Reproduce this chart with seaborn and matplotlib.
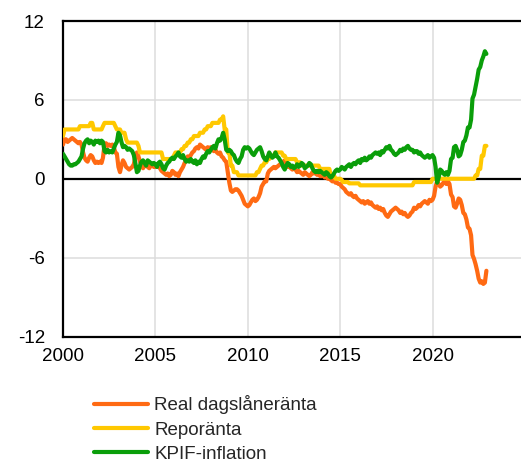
import pandas as pd
import numpy as np
import matplotlib
matplotlib.use('Agg')
import matplotlib.pyplot as plt
import matplotlib.dates as mdates
import seaborn as sns

# monthly data, Jan 2000 - Dec 2022
real_rate = [
    2.6, 3.0, 3.0, 2.8, 2.9, 3.0, 3.1, 3.0, 2.9, 2.8, 2.7, 2.8,        # 2000
    2.6, 2.0, 1.6, 1.4, 1.3, 1.6, 1.8, 1.7, 1.4, 1.2, 1.3, 1.2,        # 2001
    1.3, 1.2, 1.6, 2.6, 2.7, 2.5, 2.6, 2.5, 2.6, 2.4, 2.0, 1.9,        # 2002
    0.9, 0.5, 1.0, 1.4, 1.2, 0.9, 0.8, 0.7, 0.8, 0.9, 1.1, 1.7,        # 2003
    2.0, 1.7, 1.3, 1.0, 0.8, 1.0, 1.2, 0.9, 0.8, 1.0, 1.0, 0.9,        # 2004
    0.9, 0.9, 1.0, 0.8, 0.6, 0.5, 0.4, 0.3, 0.4, 0.2, 0.3, 0.6,        # 2005
    0.5, 0.3, 0.4, 0.2, 0.5, 0.7, 0.9, 1.2, 1.4, 1.7, 1.6, 1.8,        # 2006
    2.0, 2.1, 2.3, 2.4, 2.3, 2.6, 2.5, 2.4, 2.3, 2.2, 2.4, 2.3,        # 2007
    2.4, 2.2, 2.1, 2.2, 2.0, 1.9, 2.0, 1.7, 1.6, 1.4, 1.3, 0.5,        # 2008
    -0.3, -0.9, -1.0, -0.9, -0.8, -0.8, -0.9, -1.1, -1.3, -1.6, -1.9, -2.0,  # 2009
    -2.1, -2.0, -1.8, -1.6, -1.5, -1.7, -1.6, -1.4, -1.1, -0.6, -0.4, -0.2,  # 2010
    -0.2, 0.4, 0.6, 0.7, 0.8, 0.9, 0.8, 0.9, 1.0, 1.1, 1.2, 1.3,       # 2011
    1.4, 1.2, 0.9, 1.0, 0.8, 0.7, 0.8, 0.7, 0.5, 0.6, 0.5, 0.4,        # 2012
    0.3, 0.5, 0.4, 0.3, 0.2, 0.3, 0.5, 0.4, 0.5, 0.3, 0.4, 0.2,        # 2013
    0.2, 0.3, 0.1, 0.2, 0.0, 0.1, -0.1, -0.2, -0.1, -0.3, -0.3, -0.4,  # 2014
    -0.4, -0.6, -0.7, -0.8, -1.0, -1.1, -1.2, -1.1, -1.3, -1.4, -1.3, -1.5,  # 2015
    -1.6, -1.7, -1.8, -1.7, -1.9, -1.8, -1.7, -1.9, -1.8, -2.0, -2.1, -2.2,  # 2016
    -2.1, -2.3, -2.2, -2.4, -2.3, -2.6, -2.8, -2.9, -2.7, -2.5, -2.4, -2.3,  # 2017
    -2.2, -2.3, -2.4, -2.6, -2.5, -2.7, -2.6, -2.8, -2.9, -2.8, -2.6, -2.5,  # 2018
    -2.2, -2.3, -2.2, -2.0, -2.1, -1.9, -1.8, -1.7, -1.8, -1.9, -1.6, -1.7,  # 2019
    -1.6, -1.3, -0.6, -0.2, -0.4, -0.6, -0.5, -0.3, -0.2, -0.4, -0.2, -0.4,  # 2020
    -1.2, -1.4, -2.1, -2.2, -1.9, -1.5, -1.6, -2.0, -2.6, -2.7, -3.1, -3.7,  # 2021
    -3.8, -4.3, -5.8, -6.1, -6.5, -7.0, -7.6, -7.9, -7.8, -8.0, -7.9, -7.0,  # 2022
]

repo_rate = [
    3.25, 3.75, 3.75, 3.75, 3.75, 3.75, 3.75, 3.75, 3.75, 3.75, 3.75, 4.00,  # 2000
    4.00, 4.00, 4.00, 4.00, 4.00, 4.00, 4.25, 4.25, 3.75, 3.75, 3.75, 3.75,  # 2001
    3.75, 3.75, 4.00, 4.25, 4.25, 4.25, 4.25, 4.25, 4.25, 4.25, 4.00, 3.75,  # 2002
    3.75, 3.75, 3.50, 3.50, 3.50, 3.00, 2.75, 2.75, 2.75, 2.75, 2.75, 2.75,  # 2003
    2.75, 2.50, 2.00, 2.00, 2.00, 2.00, 2.00, 2.00, 2.00, 2.00, 2.00, 2.00,  # 2004
    2.00, 2.00, 2.00, 2.00, 2.00, 1.50, 1.50, 1.50, 1.50, 1.50, 1.50, 1.50,  # 2005
    1.75, 2.00, 2.00, 2.00, 2.00, 2.25, 2.25, 2.50, 2.50, 2.75, 2.75, 3.00,  # 2006
    3.00, 3.25, 3.25, 3.25, 3.25, 3.50, 3.50, 3.50, 3.75, 3.75, 4.00, 4.00,  # 2007
    4.00, 4.25, 4.25, 4.25, 4.25, 4.25, 4.50, 4.50, 4.75, 3.75, 3.75, 2.00,  # 2008
    2.00, 1.00, 1.00, 0.50, 0.50, 0.50, 0.25, 0.25, 0.25, 0.25, 0.25, 0.25,  # 2009
    0.25, 0.25, 0.25, 0.25, 0.25, 0.25, 0.50, 0.50, 0.75, 1.00, 1.00, 1.25,  # 2010
    1.25, 1.50, 1.50, 1.75, 1.75, 1.75, 2.00, 2.00, 2.00, 2.00, 2.00, 1.75,  # 2011
    1.75, 1.50, 1.50, 1.50, 1.50, 1.50, 1.50, 1.50, 1.25, 1.25, 1.25, 1.00,  # 2012
    1.00, 1.00, 1.00, 1.00, 1.00, 1.00, 1.00, 1.00, 1.00, 1.00, 1.00, 0.75,  # 2013
    0.75, 0.75, 0.75, 0.75, 0.75, 0.75, 0.25, 0.25, 0.25, 0.00, 0.00, 0.00,  # 2014
    0.00, -0.10, -0.25, -0.25, -0.25, -0.25, -0.35, -0.35, -0.35, -0.35, -0.35, -0.35,  # 2015
    -0.35, -0.50, -0.50, -0.50, -0.50, -0.50, -0.50, -0.50, -0.50, -0.50, -0.50, -0.50,  # 2016
    -0.50, -0.50, -0.50, -0.50, -0.50, -0.50, -0.50, -0.50, -0.50, -0.50, -0.50, -0.50,  # 2017
    -0.50, -0.50, -0.50, -0.50, -0.50, -0.50, -0.50, -0.50, -0.50, -0.50, -0.50, -0.50,  # 2018
    -0.25, -0.25, -0.25, -0.25, -0.25, -0.25, -0.25, -0.25, -0.25, -0.25, -0.25, -0.25,  # 2019
    0.00, 0.00, 0.00, 0.00, 0.00, 0.00, 0.00, 0.00, 0.00, 0.00, 0.00, 0.00,  # 2020
    0.00, 0.00, 0.00, 0.00, 0.00, 0.00, 0.00, 0.00, 0.00, 0.00, 0.00, 0.00,  # 2021
    0.00, 0.00, 0.00, 0.00, 0.25, 0.25, 0.75, 0.75, 1.75, 1.75, 2.50, 2.50,  # 2022
]

kpif = [
    1.9, 1.7, 1.5, 1.3, 1.1, 1.0, 1.0, 1.1, 1.1, 1.2, 1.3, 1.5,        # 2000
    1.7, 2.3, 2.7, 2.9, 3.0, 2.7, 2.9, 2.8, 2.6, 2.9, 2.8, 2.9,        # 2001
    2.7, 2.9, 2.8, 2.1, 2.0, 2.2, 2.0, 2.1, 2.0, 2.3, 2.6, 2.8,        # 2002
    3.5, 3.3, 2.8, 2.4, 2.5, 2.4, 2.2, 2.3, 2.2, 2.1, 1.8, 1.2,        # 2003
    0.5, 0.6, 1.0, 1.3, 1.4, 1.2, 1.0, 1.4, 1.3, 1.2, 1.1, 1.2,        # 2004
    1.1, 0.9, 1.2, 1.3, 1.1, 0.8, 0.7, 1.0, 1.2, 1.3, 1.5, 1.6,        # 2005
    1.5, 1.7, 1.8, 2.0, 1.7, 1.6, 1.8, 1.5, 1.3, 1.4, 1.3, 1.5,        # 2006
    1.3, 1.2, 1.4, 1.1, 1.3, 1.2, 1.5, 1.7, 1.6, 1.9, 2.1, 2.0,        # 2007
    2.2, 2.4, 2.5, 2.3, 2.7, 3.0, 2.9, 3.1, 3.5, 3.0, 2.2, 2.1,        # 2008
    2.2, 2.1, 1.9, 1.8, 1.5, 1.3, 1.2, 1.5, 1.7, 2.2, 2.4, 2.3,        # 2009
    2.4, 2.3, 2.1, 1.9, 1.8, 2.0, 2.2, 2.3, 2.4, 2.1, 1.7, 1.5,        # 2010
    1.4, 1.7, 2.0, 1.8, 1.6, 1.7, 2.0, 1.7, 1.6, 1.4, 1.2, 0.9,        # 2011
    0.7, 1.0, 1.2, 1.1, 0.9, 1.0, 0.8, 0.9, 1.1, 0.9, 1.0, 1.2,        # 2012
    1.1, 0.8, 0.9, 1.0, 1.2, 1.1, 0.8, 0.6, 0.5, 0.6, 0.5, 0.6,        # 2013
    0.5, 0.4, 0.3, 0.5, 0.4, 0.2, 0.1, 0.2, 0.4, 0.6, 0.7, 0.6,        # 2014
    0.7, 0.9, 0.8, 0.7, 0.9, 1.0, 1.1, 0.9, 1.1, 1.2, 1.1, 1.3,        # 2015
    1.4, 1.2, 1.5, 1.4, 1.6, 1.4, 1.5, 1.7, 1.6, 1.8, 1.9, 2.0,        # 2016
    1.9, 2.0, 1.8, 2.1, 2.0, 2.2, 2.4, 2.3, 2.5, 2.2, 2.1, 1.9,        # 2017
    1.8, 1.9, 2.0, 2.2, 2.1, 2.3, 2.2, 2.4, 2.5, 2.3, 2.2, 2.2,        # 2018
    2.0, 2.1, 2.1, 1.9, 2.0, 1.8, 1.7, 1.6, 1.7, 1.8, 1.6, 1.7,        # 2019
    1.8, 1.6, 0.9, -0.3, 0.1, 0.7, 0.6, 0.4, 0.3, 0.5, 0.3, 0.6,       # 2020
    1.5, 1.6, 2.4, 2.5, 2.2, 1.7, 1.8, 2.2, 2.8, 2.9, 3.3, 3.9,        # 2021
    3.9, 4.5, 6.1, 6.4, 7.0, 7.6, 8.3, 8.5, 9.0, 9.3, 9.7, 9.5,        # 2022
]

labels = ['Real dagslåneränta', 'Reporänta', 'KPIF-inflation']
colors = ['#ff6a13', '#ffc800', '#0a9e0a']
yticks = [-12, -6, 0, 6, 12]
xtick_years = [2000, 2005, 2010, 2015, 2020]

dates = pd.date_range('2000-01-01', periods=len(kpif), freq='MS')
df = pd.DataFrame({'date': dates, labels[0]: real_rate, labels[1]: repo_rate, labels[2]: kpif})
long_df = df.melt(id_vars='date', var_name='serie', value_name='procent')

sns.set_style('white')
plt.rcParams['font.family'] = ['Liberation Sans', 'DejaVu Sans']
plt.rcParams['axes.unicode_minus'] = False

fig = plt.figure(figsize=(5.21, 4.62), dpi=100)
ax = fig.add_axes([63 / 521, 1 - 336.5 / 462, 1 - 63 / 521, (336.5 - 21) / 462])

ax.axhline(0, color='black', linewidth=1.6, zorder=1)
sns.lineplot(data=long_df, x='date', y='procent', hue='serie', hue_order=labels,
             palette=colors, linewidth=3, ax=ax, legend=False, zorder=3)
for line in ax.get_lines()[1:]:
    line.set_solid_joinstyle('round')
    line.set_solid_capstyle('round')

ax.set_ylim(-12, 12)
ax.set_yticks(yticks)
ax.set_xlim(pd.Timestamp('2000-01-01'), pd.Timestamp('2024-10-15'))
ax.set_xticks([pd.Timestamp(f'{y}-01-01') for y in xtick_years])
ax.xaxis.set_major_formatter(mdates.DateFormatter('%Y'))
ax.set_xlabel('')
ax.set_ylabel('')
ax.grid(True, color='#dcdcdc', linewidth=1.1)
ax.set_axisbelow(True)
ax.tick_params(axis='both', length=0, labelsize=13.5, colors='black')
ax.tick_params(axis='y', pad=13)
ax.tick_params(axis='x', pad=8)
for side in ['left', 'top', 'bottom']:
    ax.spines[side].set_color('black')
    ax.spines[side].set_linewidth(1.6)
ax.spines['right'].set_visible(False)

handles = [plt.Line2D([], [], color=c, linewidth=3) for c in colors]
fig.legend(handles, labels, loc='upper left', bbox_to_anchor=(94 / 521, 1 - 395.5 / 462),
           frameon=False, fontsize=13.5, handlelength=2.9, handletextpad=0.3,
           labelspacing=0.38, borderpad=0, borderaxespad=0)

fig.savefig('out.png', dpi=100)
